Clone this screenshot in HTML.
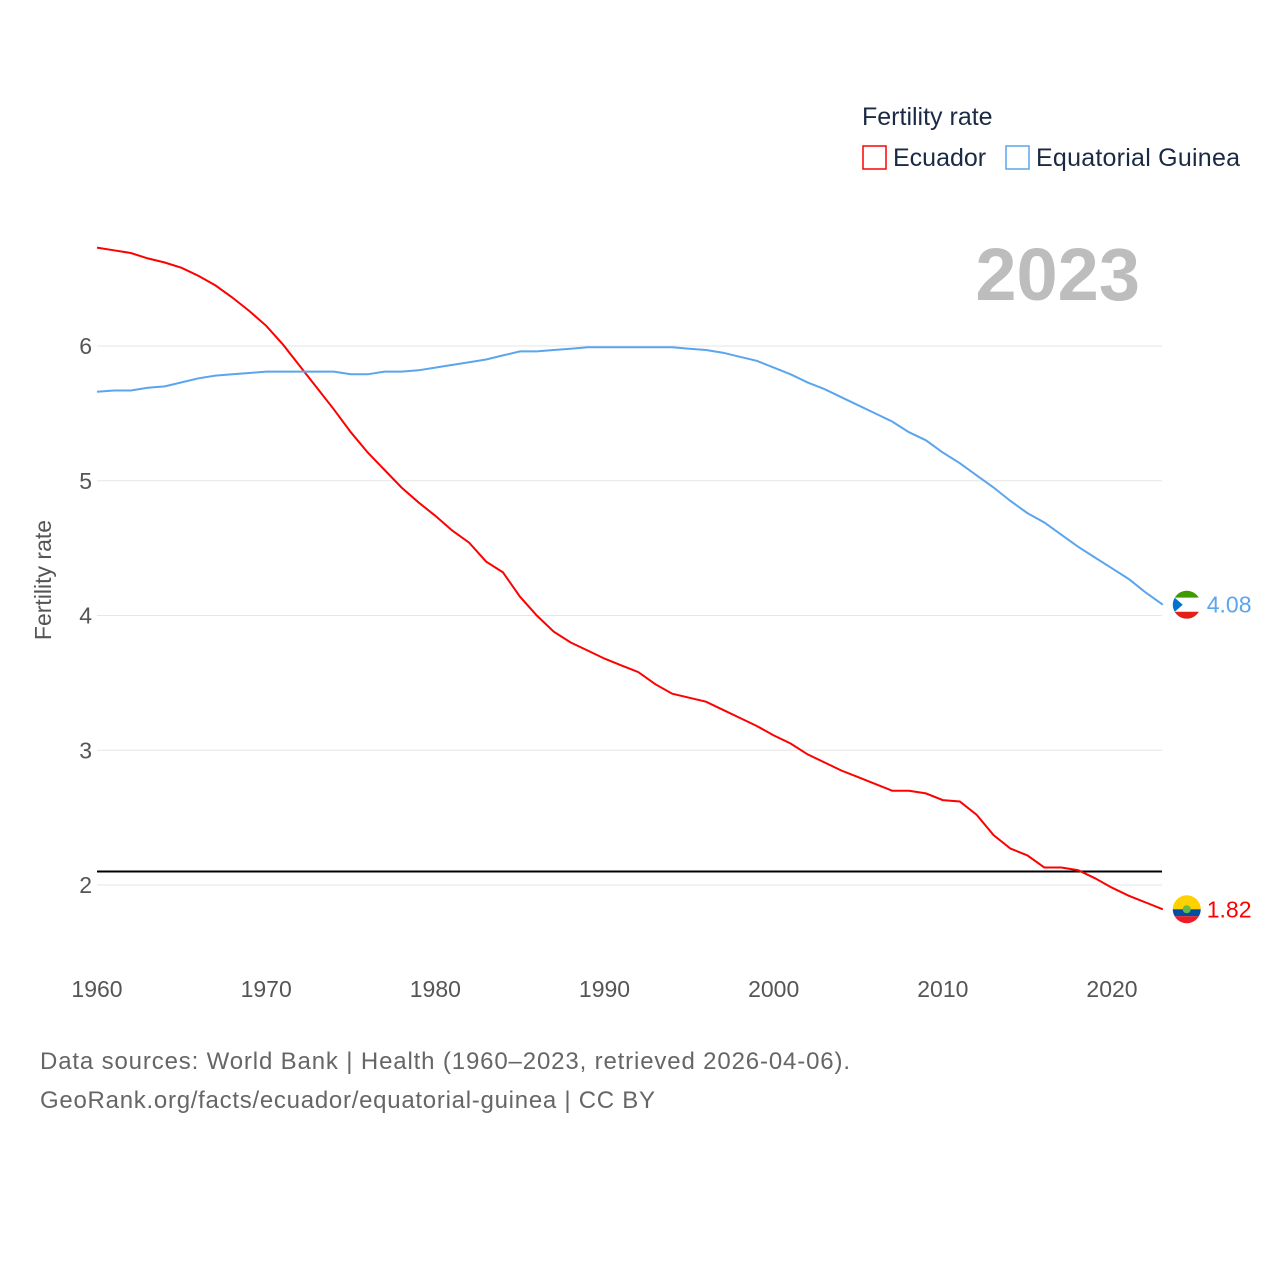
<!DOCTYPE html>
<html><head><meta charset="utf-8"><style>
body{margin:0;background:#fff;width:1280px;height:1280px;overflow:hidden;font-family:"Liberation Sans",sans-serif}
</style></head><body>
<svg width="1280" height="1280" id="chart">
<text x="862" y="125" font-size="25" fill="#1a2a44">Fertility rate</text>
<rect x="863" y="146" width="23" height="23" fill="none" stroke="#f00" stroke-width="1.5"/>
<text x="893" y="166" font-size="25" fill="#1a2a44">Ecuador</text>
<rect x="1006" y="146" width="23" height="23" fill="none" stroke="#5aa5ee" stroke-width="1.5"/>
<text x="1036" y="166" font-size="25" fill="#1a2a44" textLength="204">Equatorial Guinea</text>
<text x="1140" y="300" font-size="74" font-weight="bold" fill="#bdbdbd" text-anchor="end">2023</text>
<text transform="translate(51,580) rotate(-90)" font-size="23" fill="#555" text-anchor="middle">Fertility rate</text>
<g id="grid"></g><g id="lines"></g>
<text x="40" y="1069" font-size="24" fill="#666" textLength="810">Data sources: World Bank | Health (1960–2023, retrieved 2026-04-06).</text>
<text x="40" y="1108" font-size="24" fill="#666" textLength="615">GeoRank.org/facts/ecuador/equatorial-guinea | CC BY</text>
</svg>
<script>
const years=[];for(let y=1960;y<=2023;y++)years.push(y);
const ecuador=[6.73,6.71,6.69,6.65,6.62,6.58,6.52,6.45,6.36,6.26,6.15,6.01,5.85,5.69,5.53,5.36,5.21,5.08,4.95,4.84,4.74,4.63,4.54,4.40,4.32,4.14,4.00,3.88,3.80,3.74,3.68,3.63,3.58,3.49,3.42,3.39,3.36,3.30,3.24,3.18,3.11,3.05,2.97,2.91,2.85,2.80,2.75,2.70,2.70,2.68,2.63,2.62,2.52,2.37,2.27,2.22,2.13,2.13,2.11,2.05,1.98,1.92,1.87,1.82];
const eqGuinea=[5.66,5.67,5.67,5.69,5.70,5.73,5.76,5.78,5.79,5.80,5.81,5.81,5.81,5.81,5.81,5.79,5.79,5.81,5.81,5.82,5.84,5.86,5.88,5.90,5.93,5.96,5.96,5.97,5.98,5.99,5.99,5.99,5.99,5.99,5.99,5.98,5.97,5.95,5.92,5.89,5.84,5.79,5.73,5.68,5.62,5.56,5.50,5.44,5.36,5.30,5.21,5.13,5.04,4.95,4.85,4.76,4.69,4.60,4.51,4.43,4.35,4.27,4.17,4.08];
const yTicks=[2,3,4,5,6];
const xTicks=[1960,1970,1980,1990,2000,2010,2020];
const replacement=2.1;
const X=y=>97+(y-1960)*1015/60;
const Y=v=>885-(v-2)*134.75;
const NS='http://www.w3.org/2000/svg';
function mk(t,a,p){const e=document.createElementNS(NS,t);for(const k in a)e.setAttribute(k,a[k]);p.appendChild(e);return e;}
const grid=document.getElementById('grid'),lines=document.getElementById('lines');
yTicks.forEach(v=>{
 const l=mk('line',{x1:97,x2:1162,y1:Y(v),y2:Y(v),stroke:'#e6e6e6','stroke-width':1},grid);
 
 
 const t=mk('text',{x:92,y:Y(v)+8,'font-size':23,fill:'#555','text-anchor':'end'},grid);t.textContent=v;
 
 
});
xTicks.forEach(v=>{
 const t=mk('text',{x:X(v),y:997,'font-size':23,fill:'#555','text-anchor':'middle'},grid);t.textContent=v;
 
 
});
const rl=mk('line',{x1:97,x2:1162,y1:Y(replacement),y2:Y(replacement),stroke:'#000','stroke-width':2},lines);


function series(vals,color,name,flag){
 const p=mk('path',{d:vals.map((v,i)=>(i?'L':'M')+X(years[i]).toFixed(1)+','+Y(v).toFixed(1)).join(''),fill:'none',stroke:color,'stroke-width':2},lines);
 
 
 const last=vals[vals.length-1],cx=X(2023)+24,cy=Y(last);
 const g=mk('g',{},lines);
 
 
 flag(g,cx,cy);
 const t=mk('text',{x:cx+20,y:cy+8,'font-size':23,fill:color},lines);t.textContent=last.toFixed(2);
 
 
}
series(ecuador,'#f00','ecuador',(g,cx,cy)=>{
 mk('path',{d:`M${cx-14},${cy} A14,14 0 0 1 ${cx+14},${cy}Z`,fill:'#ffd100'},g);
 mk('path',{d:`M${cx-14},${cy} L${cx+14},${cy} A14,14 0 0 1 ${cx+12.1},${cy+7} L${cx-12.1},${cy+7} A14,14 0 0 1 ${cx-14},${cy}Z`,fill:'#034ea2'},g);
 mk('path',{d:`M${cx-12.1},${cy+7} L${cx+12.1},${cy+7} A14,14 0 0 1 ${cx-12.1},${cy+7}Z`,fill:'#ed1c24'},g);
 mk('circle',{cx:cx,cy:cy,r:4,fill:'#6b4'},g);
});
series(eqGuinea,'#5aa5ee','eq-guinea',(g,cx,cy)=>{
 mk('path',{d:`M${cx-12.1},${cy-7} A14,14 0 0 1 ${cx+12.1},${cy-7}Z`,fill:'#3e9a00'},g);
 mk('rect',{x:cx-13,y:cy-7,width:26,height:14,fill:'#fff'},g);
 mk('path',{d:`M${cx-12.1},${cy+7} L${cx+12.1},${cy+7} A14,14 0 0 1 ${cx-12.1},${cy+7}Z`,fill:'#e32118'},g);
 mk('path',{d:`M${cx-14},${cy} A14,14 0 0 1 ${cx-12},${cy-7} L${cx-4},${cy} L${cx-12},${cy+7} A14,14 0 0 1 ${cx-14},${cy}Z`,fill:'#0073ce'},g);
});
</script>
</body></html>
